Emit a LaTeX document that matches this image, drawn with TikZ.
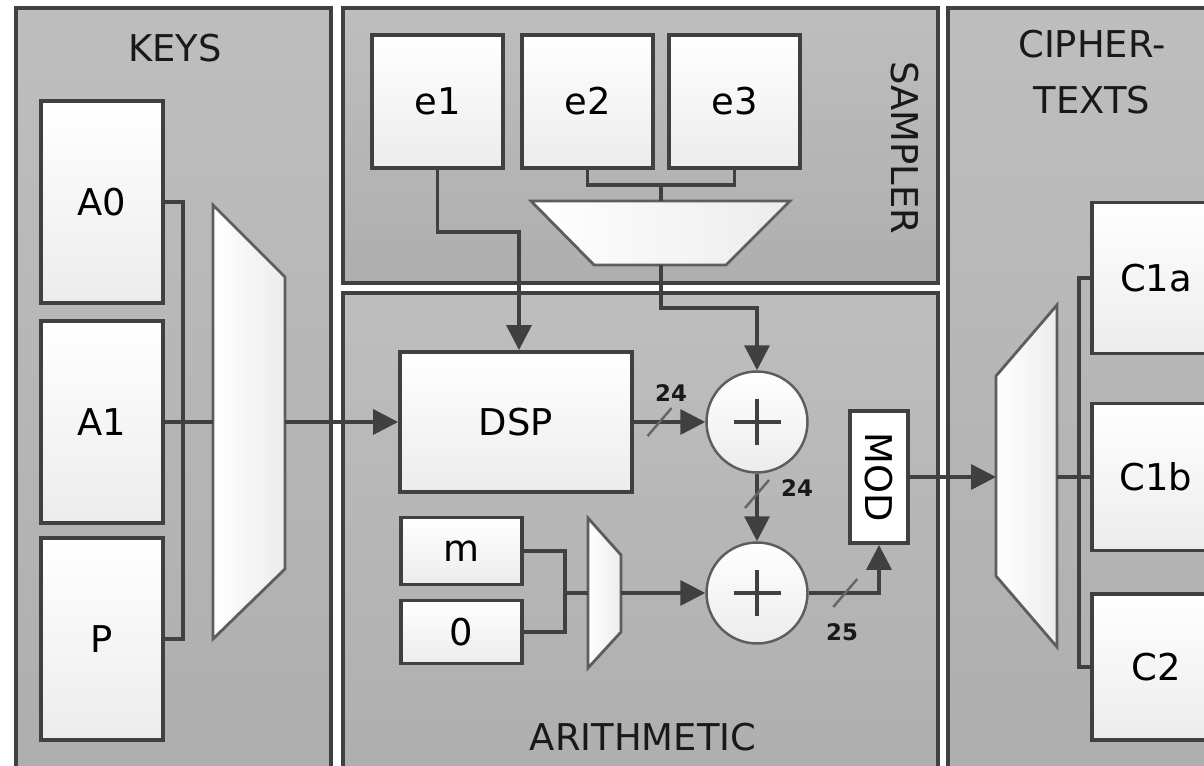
\documentclass[tikz,border=0pt]{standalone}
\usepackage{fontspec}
\setmainfont{DejaVu Sans}
\usetikzlibrary{arrows.meta}

\definecolor{edge}{HTML}{404040}
\definecolor{paneltop}{HTML}{BEBEBE}
\definecolor{panelbot}{HTML}{AEAEAE}
\definecolor{boxbot}{HTML}{ECECEC}
\newcommand\boxfont{\fontsize{21}{32}\selectfont}
\newcommand\busfont{\fontsize{13}{15}\selectfont\bfseries}

\tikzset{
  panel/.style={draw=edge,line width=2.2pt,top color=paneltop,bottom color=panelbot},
  reg/.style={draw=edge,line width=2.2pt,top color=white,bottom color=boxbot,font=\boxfont,inner sep=0pt},
  keybox/.style={reg,minimum width=2.44cm,minimum height=4.03cm},
  sampbox/.style={reg,minimum width=2.62cm,minimum height=2.66cm},
  cbox/.style={reg,minimum width=2.56cm},
  modbox/.style={draw=edge,line width=2.2pt,fill=white,font=\boxfont,inner sep=0pt},
  adder/.style={circle,draw=edge!85,line width=1.4pt,top color=white,bottom color=boxbot,
    minimum size=2.02cm,inner sep=0pt,
    path picture={\draw[edge,line width=2.4pt]
      ([xshift=-4.7mm]path picture bounding box.center) -- ([xshift=4.7mm]path picture bounding box.center)
      ([yshift=-4.7mm]path picture bounding box.center) -- ([yshift=4.7mm]path picture bounding box.center);}},
  mux/.style={draw=edge!85,line width=1.6pt,left color=white,right color=boxbot},
  wire/.style={draw=edge,line width=2pt},
  feed/.style={wire,-{Triangle[length=5mm,width=5mm]}},
  buswidth/.style={draw=edge!80,line width=1.4pt},
  wlabel/.style={font=\busfont,text=black!90},
  title/.style={font=\boxfont,text=black!90}
}

\begin{document}
\begin{tikzpicture}[x=0.02cm,y=-0.02cm]
\useasboundingbox (0,0) rectangle (1204,766);
\clip (0,0) rectangle (1204,766);

% panels
\draw[panel] (16,8) rectangle (331,790);
\draw[panel] (343,8) rectangle (938,283);
\draw[panel] (343,293) rectangle (938,790);
\draw[panel] (948,8) rectangle (1240,790);

\node[title] (keys) at (175,48) {KEYS};
\node[title,rotate=-90] (sampler) at (905,148) {SAMPLER};
\node[title] (arith) at (643,737) {ARITHMETIC};
\node[title,align=center] (ctexts) at (1092,72) {CIPHER-\\TEXTS};

% keys
\node[keybox] (A0) at (102,202) {A0};
\node[keybox] (A1) at (102,422) {A1};
\node[keybox] (P) at (102,639) {P};
\draw[mux] (213,205) -- (285,277) -- (285,569) -- (213,639) -- cycle;
\coordinate (kmuxin) at (213,422);
\coordinate (kmuxout) at (285,422);
\coordinate (kbus) at (183,422);

% sampler
\node[sampbox] (e1) at (437.5,101.5) {e1};
\node[sampbox] (e2) at (587.5,101.5) {e2};
\node[sampbox] (e3) at (734.5,101.5) {e3};
\draw[mux] (531,201) -- (790,201) -- (726,265) -- (594,265) -- cycle;
\coordinate (smuxin) at (661,201);
\coordinate (smuxout) at (661,265);
\coordinate (sjoin) at (661,185);
\coordinate (ejoin) at (519,232);
\coordinate (sdrop) at (757,308);

% arithmetic
\node[reg,minimum width=4.64cm,minimum height=2.8cm] (DSP) at (516,422) {DSP};
\node[adder] (add1) at (757,422) {};
\node[adder] (add2) at (757,593) {};
\node[reg,minimum width=2.42cm,minimum height=1.34cm] (m) at (461.5,551) {m};
\node[reg,minimum width=2.42cm,minimum height=1.26cm] (zero) at (461.5,632) {0};
\node[modbox,minimum width=1.16cm,minimum height=2.64cm] (MOD) at (879,477) {\rotatebox{-90}{MOD}};
\draw[mux] (588,518) -- (621,555) -- (621,632) -- (588,668) -- cycle;
\coordinate (amuxin) at (588,593);
\coordinate (amuxout) at (621,593);
\coordinate (abus) at (565,593);

% ciphertexts
\node[cbox,minimum height=3.02cm] (C1a) at (1156,278) {C1a};
\node[cbox,minimum height=2.94cm] (C1b) at (1156,477) {C1b};
\node[cbox,minimum height=2.92cm] (C2) at (1156,667) {C2};
\draw[mux] (996,376) -- (1057,305) -- (1057,647) -- (996,576) -- cycle;
\coordinate (cmuxin) at (996,477);
\coordinate (cmuxout) at (1057,477);
\coordinate (cbus) at (1079,477);

% wires
\draw[wire] (A0.east) -| (kbus) |- (P.east);
\draw[wire] (A1.east) -- (kmuxin);
\draw[feed] (kmuxout) -- (DSP.west);

\draw[wire] (e2.south) |- (sjoin) -| (e3.south);
\draw[wire] (sjoin) -- (smuxin);
\draw[feed] (e1.south) |- (ejoin) -- (ejoin |- DSP.north);
\draw[feed] (smuxout) |- (sdrop) -- (add1.north);

\draw[wire] (m.east) -| (abus) |- (zero.east);
\draw[wire] (abus) -- (amuxin);
\draw[feed] (amuxout) -- (add2.west);

\draw[feed] (DSP.east) -- coordinate[pos=0.36] (w1) (add1.west);
\draw[feed] (add1.south) -- coordinate[pos=0.3] (w2) (add2.north);
\draw[feed] (add2.east) -| coordinate[pos=0.26] (w3) (MOD.south);
\draw[buswidth] (w1) +(-12,14) -- +(12,-14);
\draw[buswidth] (w2) +(-12,14) -- +(12,-14);
\draw[buswidth] (w3) +(-12,14) -- +(12,-14);
\node[wlabel] (n1) at (671,393) {24};
\node[wlabel] (n2) at (797,488) {24};
\node[wlabel] (n3) at (842,632) {25};

\draw[feed] (MOD.east) -- (cmuxin);
\draw[wire] (cmuxout) -- (C1b.west);
\draw[wire] (C1a.west) -| (cbus) |- (C2.west);
\end{tikzpicture}
\end{document}
